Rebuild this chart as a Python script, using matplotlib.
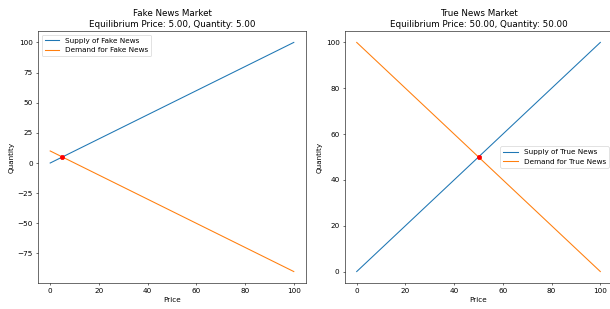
import numpy as np
import matplotlib.pyplot as plt

plt.rcParams['font.size'] = 10.3

# price grid endpoints
price = [0, 100]

fake_supply = [0, 100]
fake_demand = [10, -90]
fake_eq = (5.0, 5.0)

true_supply = [0, 100]
true_demand = [100, 0]
true_eq = (50.0, 50.0)

fig = plt.figure(figsize=(12, 6.08), dpi=610 / 12)
# the reference is cropped on the right, so the right axes runs slightly past the edge
ax_left = fig.add_axes([0.0623, 0.0841, 0.4393, 0.8155])
ax_right = fig.add_axes([0.5648, 0.0841, 0.4393, 0.8155])

panels = [
    (ax_left, 'Fake News', fake_supply, fake_demand, fake_eq, 'upper left'),
    (ax_right, 'True News', true_supply, true_demand, true_eq, 'center right'),
]

for ax, name, supply, demand, eq, loc in panels:
    ax.plot(price, supply, label=f'Supply of {name}')
    ax.plot(price, demand, label=f'Demand for {name}')
    ax.scatter([eq[0]], [eq[1]], color='red', zorder=5)
    ax.set_title(f'{name} Market\nEquilibrium Price: {eq[0]:.2f}, Quantity: {eq[1]:.2f}')
    ax.set_xlabel('Price')
    ax.set_ylabel('Quantity')
    ax.legend(loc=loc)

plt.savefig('out.png')
